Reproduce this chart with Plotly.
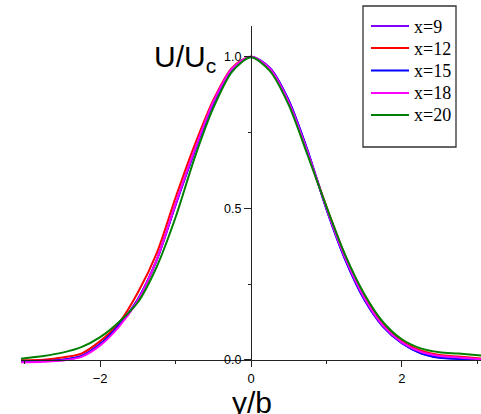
import plotly.graph_objects as go

eta = [-3.05, -2.75, -2.5, -2.25, -2.0, -1.75, -1.5, -1.25, -1.0, -0.75, -0.5, -0.25, 0.0,
       0.25, 0.5, 0.75, 1.0, 1.25, 1.5, 1.75, 2.0, 2.25, 2.5, 2.75, 3.05]

u_x9 = [-0.005, -0.003, 0.001, 0.013, 0.052, 0.113, 0.200, 0.330, 0.510, 0.686, 0.846, 0.957, 0.999,
        0.962, 0.855, 0.690, 0.498, 0.331, 0.201, 0.111, 0.056, 0.023, 0.008, 0.004, 0.001]
u_x12 = [-0.001, 0.001, 0.008, 0.021, 0.062, 0.122, 0.222, 0.352, 0.535, 0.706, 0.856, 0.963, 0.999,
         0.958, 0.848, 0.681, 0.505, 0.342, 0.212, 0.120, 0.062, 0.031, 0.016, 0.011, 0.005]
u_x15 = [-0.004, -0.003, 0.000, 0.012, 0.052, 0.115, 0.200, 0.329, 0.512, 0.686, 0.845, 0.955, 0.998,
         0.962, 0.855, 0.690, 0.497, 0.330, 0.200, 0.110, 0.055, 0.022, 0.007, 0.003, 0.000]
u_x18 = [-0.008, -0.006, -0.002, 0.010, 0.048, 0.110, 0.197, 0.330, 0.515, 0.690, 0.850, 0.960, 0.999,
         0.960, 0.850, 0.685, 0.500, 0.335, 0.205, 0.113, 0.058, 0.027, 0.013, 0.008, 0.002]
u_x20 = [0.004, 0.013, 0.024, 0.042, 0.075, 0.125, 0.190, 0.307, 0.470, 0.664, 0.830, 0.950, 0.997,
         0.952, 0.840, 0.675, 0.505, 0.345, 0.218, 0.125, 0.068, 0.038, 0.025, 0.021, 0.015]

series_names = ["x=9", "x=12", "x=15", "x=18", "x=20"]
series_vals = [u_x9, u_x12, u_x15, u_x18, u_x20]
colors = ["#8000FF", "#FF0000", "#0000FF", "#FF00FF", "#008000"]

x_ticks = [-2, 0, 2]
y_ticks = [0.0, 0.5, 1.0]

W, H = 481, 414
ML, MR, MT, MB = 21, 0, 26, 48
XR = [-3.05, 3.05]
YR = [-0.02, 1.1]

fig = go.Figure()
for name, vals, col in zip(series_names, series_vals, colors):
    fig.add_trace(go.Scatter(x=eta, y=vals, mode="lines", name=name, showlegend=False,
                             line=dict(color=col, width=2, shape="spline", smoothing=0.8)))

pw = W - ML - MR
ph = H - MT - MB

def px_to_paper_x(px):
    return (px - ML) / pw

def px_to_paper_y(py):
    return (H - MB - py) / ph

ypos = (0 - YR[0]) / (YR[1] - YR[0])
xpos = (0 - XR[0]) / (XR[1] - XR[0])

axis_col = "#222222"

# legend (box, sample lines, labels)
shapes = [dict(type="rect", xref="paper", yref="paper",
               x0=px_to_paper_x(363), x1=px_to_paper_x(456),
               y0=px_to_paper_y(147), y1=px_to_paper_y(6),
               line=dict(color="#333333", width=1.3), fillcolor="white", layer="above")]
annotations = []
leg_y = [26, 48, 70.5, 93, 115]
for name, col, ly in zip(series_names, colors, leg_y):
    shapes.append(dict(type="line", xref="paper", yref="paper",
                       x0=px_to_paper_x(371), x1=px_to_paper_x(409),
                       y0=px_to_paper_y(ly), y1=px_to_paper_y(ly),
                       line=dict(color=col, width=2), layer="above"))
    annotations.append(dict(text=name, xref="paper", yref="paper",
                            x=px_to_paper_x(412), y=px_to_paper_y(ly + 0.5),
                            xanchor="left", yanchor="middle", showarrow=False,
                            font=dict(family="Liberation Serif", size=18, color="black")))

annotations += [
    dict(text="U/U<sub>c</sub>", xref="paper", yref="paper",
         x=px_to_paper_x(185), y=px_to_paper_y(58), xanchor="center", yanchor="middle",
         showarrow=False, font=dict(family="Liberation Sans", size=30, color="black")),
    dict(text="y/b", xref="paper", yref="paper",
         x=px_to_paper_x(252), y=px_to_paper_y(402), xanchor="center", yanchor="middle",
         showarrow=False, font=dict(family="Liberation Sans", size=30, color="black")),
]

fig.update_layout(
    width=W, height=H,
    margin=dict(l=ML, r=MR, t=MT, b=MB),
    paper_bgcolor="white", plot_bgcolor="white",
    showlegend=False,
    xaxis=dict(range=XR, anchor="free", position=ypos, showline=True, linecolor=axis_col,
               linewidth=1.3, showgrid=False, zeroline=False,
               tickmode="array", tickvals=x_ticks, ticks="outside", ticklen=6,
               tickcolor=axis_col, tickwidth=1.3,
               minor=dict(dtick=1, tick0=0, ticks="outside", ticklen=3, tickcolor=axis_col, tickwidth=1.3),
               tickfont=dict(family="Liberation Sans", size=13, color="black")),
    yaxis=dict(range=YR, anchor="free", position=xpos, showline=True, linecolor=axis_col,
               linewidth=1.3, showgrid=False, zeroline=False,
               tickmode="array", tickvals=y_ticks, ticks="outside", ticklen=7,
               tickcolor=axis_col, tickwidth=1.3, tickformat=".1f",
               minor=dict(dtick=0.25, tick0=0, ticks="outside", ticklen=3, tickcolor=axis_col, tickwidth=1.3),
               tickfont=dict(family="Liberation Sans", size=12.5, color="black")),
    shapes=shapes,
    annotations=annotations,
)

fig.write_html("out.html", config={"displayModeBar": False},
               post_script="document.body.style.margin='0';document.body.style.overflow='hidden';")
